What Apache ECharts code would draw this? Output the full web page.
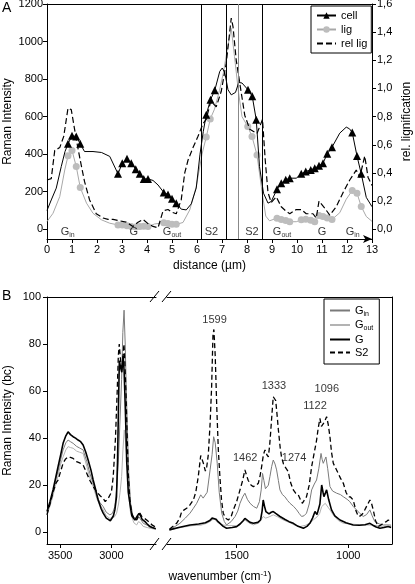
<!DOCTYPE html>
<html><head><meta charset="utf-8">
<script src="https://cdn.jsdelivr.net/npm/echarts@6/dist/echarts.min.js"></script>
<style>html,body{margin:0;padding:0;background:#fff}#c{width:415px;height:584px}</style>
</head><body><div id="c"></div>
<script>
// ---------------- Panel A data (distance in µm) ----------------
const cellCurve = [[0,100],[0.17,156],[0.37,219],[0.57,334],[0.72,414],[1.5,414],[1.84,414],[2.18,409],[2.51,388],
  [4.24,260],[4.44,236],[5.37,107],[5.57,103],[5.77,135],[5.97,220],[6.12,400],[6.25,520],
  [6.91,841],[7.01,859],[7.11,835],[7.24,743],[7.37,716],[7.54,729],[7.67,782],[7.8,779],
  [8.5,334],[8.66,192],[8.84,139],[8.97,148],[9.97,272],[11.71,512],[11.97,544],[12.1,535],[12.77,170],[13,120]];
const cellMarks = [[0.84,455],[1.0,498],[1.17,494],[1.33,455],
  [2.84,295],[3.01,352],[3.2,375],[3.37,352],[3.55,320],[3.71,295],[3.87,268],[4.04,268],
  [4.67,196],[4.84,185],[5.0,162],[5.17,139],[6.37,610],[6.54,690],[6.71,740],
  [8.04,743],[8.21,708],[8.37,583],[9.2,213],[9.37,245],[9.55,263],[9.71,272],
  [10.17,295],[10.35,308],[10.55,316],[10.71,325],[10.88,338],[11.04,352],[11.21,402],[11.4,437],
  [12.21,515],[12.4,390],[12.57,295]];
const ligCurve = [[0,41],[0.24,85],[0.51,174],[0.71,316],[1.58,139],[1.84,85],[2.18,50],[2.51,32],[4.3,28],
  [5.44,36],[5.71,103],[5.97,228],[6.2,400],[6.7,640],[6.9,740],[7.05,830],[7.2,950],[7.37,1070],[7.5,920],[7.65,740],[7.8,600],
  [8.6,200],[8.75,70],[8.9,45],[9.97,40],[11.71,88],[11.97,160],[12.77,68],[13,42]];
const ligMarks = [[0.84,391],[1.0,420],[1.17,334],[1.33,222],
  [2.84,23],[3.01,22],[3.2,18],[3.37,15],[3.55,12],[3.71,14],[3.87,16],[4.04,14],
  [4.67,34],[4.84,30],[5.0,26],[5.17,26],[6.37,491],[6.53,587],[8.03,547],[8.2,494],[8.4,396],
  [9.2,59],[9.37,52],[9.55,46],[9.71,40],[10.17,50],[10.35,53],[10.55,48],[10.71,40],[10.88,73],[11.04,68],[11.21,60],[11.4,52],
  [12.21,206],[12.4,192],[12.57,121]];
const relLig = [[0,0.35],[0.17,0.36],[0.31,0.56],[0.51,0.58],[0.67,0.66],[0.84,0.86],[0.97,0.85],[1.17,0.64],[1.33,0.49],[1.5,0.34],
  [1.7,0.21],[1.97,0.11],[2.24,0.08],[2.44,0.07],[2.64,0.07],[2.91,0.06],[3.17,0.05],[3.44,0.02],[3.64,0.05],[3.84,0.07],[4.04,0.04],
  [4.24,0.02],[4.44,0.01],[4.64,0.13],[4.84,0.14],[5.01,0.12],[5.17,0.11],[5.37,0.21],[5.51,0.40],[5.64,0.49],[5.84,0.58],[6.04,0.66],
  [6.24,0.75],[6.37,0.78],[6.55,0.91],[6.77,0.87],[6.97,0.98],[7.17,1.18],[7.37,1.50],[7.44,1.44],[7.57,1.20],[7.77,0.97],[7.91,0.81],
  [8.11,0.71],[8.4,0.68],[8.62,0.78],[8.73,0.49],[8.84,0.26],[8.97,0.19],[9.17,0.23],[9.37,0.16],[9.55,0.13],[9.71,0.11],[9.97,0.14],
  [10.17,0.14],[10.37,0.11],[10.64,0.11],[10.77,0.08],[10.88,0.20],[11.11,0.15],[11.31,0.10],[11.57,0.16],[11.84,0.26],[12.11,0.35],
  [12.37,0.42],[12.51,0.37],[12.71,0.52],[12.84,0.37],[13,0.31]];
const boundaries = [6.16, 7.15, 7.64, 8.6];
const regions = [['G','in',0.83],['G','',3.47],['G','out',5.0],['S2','',6.58],['S2','',8.2],['G','out',9.4],['G','',11.0],['G','in',12.23]];
const yTicksA = [0,200,400,600,800,1000,1200];
const relTicksA = [0,0.2,0.4,0.6,0.8,1.0,1.2,1.4,1.6];

// ---------------- Panel B data (wavenumber, cm-1) ----------------
const S2high = [[3629,7.4],[3600,12],[3570,17],[3540,21],[3521,22.2],[3495,26],[3472,29.3],[3450,31],[3423,32],[3400,31.8],[3374,31.4],[3340,30],[3310,29.5],[3276,28.6],[3240,25],[3210,22],[3178,19.4],[3140,17],[3110,15.5],[3080,14.4],[3060,13],[3047,12.3],[3030,14.5],[3015,13.7],[3000,17],[2982,23.6],[2960,40],[2943,60],[2932,75],[2923,80],[2912,74],[2900,69],[2888,74],[2877,80],[2868,72],[2858,60],[2845,40],[2835,25],[2820,14],[2802,8.1],[2780,6],[2753,5.2],[2735,7],[2721,8.1],[2700,6.5],[2680,6],[2655,5.2],[2635,4.5],[2622,3.8],[2600,3],[2580,2.5],[2566,2]];
const Ghigh = [[3629,8.8],[3600,13],[3570,18],[3540,24],[3521,27.9],[3495,33],[3472,37.8],[3445,41],[3423,42.7],[3400,41.5],[3374,40.6],[3350,40],[3325,39.2],[3300,38.5],[3276,37.1],[3250,34],[3227,30.7],[3200,26.5],[3178,22.2],[3150,17.5],[3129,13.7],[3100,10],[3080,8.1],[3050,6],[3031,5.2],[3010,4.9],[2998,5.2],[2980,7],[2966,9.5],[2950,15],[2940,30],[2930,55],[2922,73],[2910,70],[2898,68],[2885,75],[2875,68],[2862,50],[2850,30],[2835,17],[2819,12.3],[2800,7],[2770,5.2],[2745,7],[2730,8],[2715,7],[2700,5.5],[2671,4.5],[2650,3.5],[2622,2.4],[2600,2],[2566,1.5]];
const GinHigh = [[3629,8],[3600,12],[3570,17],[3540,23],[3521,26],[3495,31],[3472,35],[3445,38],[3423,39.2],[3400,38.5],[3374,37.8],[3340,36.5],[3310,35.8],[3276,35],[3240,30],[3210,25],[3178,20.8],[3140,15],[3110,12.5],[3080,10.9],[3050,8.5],[3015,7.4],[2990,8],[2966,10.9],[2945,20],[2930,32],[2917,46],[2900,65],[2888,85],[2876,94.4],[2865,80],[2855,62],[2845,46],[2830,25],[2812,12.3],[2790,7],[2753,5.2],[2730,6.5],[2715,6],[2688,3.8],[2650,3],[2622,2.1],[2566,1.5]];
const GoutHigh = [[3629,7.4],[3600,11],[3570,15.5],[3540,21],[3521,24],[3495,29],[3472,32],[3445,35],[3423,36.4],[3400,36],[3374,35.7],[3340,34.5],[3310,34],[3276,33.5],[3240,28],[3210,23],[3178,19.4],[3140,14],[3110,11.5],[3080,9.5],[3050,7],[3015,5.9],[2990,6],[2970,6.5],[2949,8.1],[2930,12],[2915,17],[2900,23.6],[2887,35],[2874,43.5],[2860,38],[2845,29.3],[2830,16],[2815,9],[2802,6.7],[2780,4],[2753,3.1],[2735,4.5],[2715,4],[2690,2.5],[2650,2],[2622,1.7],[2566,1.2]];
const S2low = [[1801,1.3],[1785,2.5],[1769,3.8],[1755,6],[1746,8.8],[1735,9.5],[1724,10.2],[1710,11.5],[1694,13.7],[1683,17],[1672,23.6],[1661,32.6],[1655,31],[1649,29.3],[1640,26],[1635,27],[1627,33],[1619,46],[1612,62],[1606,84],[1602,86.2],[1596,75],[1589,53],[1582,35],[1575,23.6],[1568,14],[1560,8.1],[1550,6],[1537,5.2],[1525,6.5],[1515,9.5],[1500,13],[1485,18],[1473,22],[1463,26.5],[1455,24],[1448,22],[1435,20],[1425,19.4],[1412,20],[1403,20.8],[1395,24],[1388,27.9],[1380,33],[1373,35],[1365,33],[1358,32],[1352,37],[1348,42],[1342,50],[1336,57.6],[1330,57],[1325,56],[1318,49],[1313,43.5],[1305,36],[1299,32],[1290,29],[1284,27.9],[1276,28],[1269,25.8],[1258,21],[1246,18],[1235,16.5],[1224,15.9],[1215,14],[1206,12.3],[1198,13],[1187,15.1],[1175,20],[1164,27.9],[1152,34],[1142,39],[1135,44],[1127,48.4],[1120,45],[1115,44.9],[1106,47],[1097,49.1],[1090,46],[1082,40.6],[1075,34],[1067,29.3],[1055,27],[1045,25],[1035,23],[1022,20.8],[1010,17],[1000,15.1],[990,15],[978,13.7],[965,9],[955,6.7],[945,7],[933,8.1],[918,11],[903,13.7],[895,12],[888,9.5],[878,5],[866,2.4],[855,3],[843,3.8],[830,4.5],[821,5.2],[808,4.5]];
const GinLow = [[1801,1],[1775,2.5],[1754,3.8],[1730,6],[1709,8.1],[1695,10],[1679,12.3],[1668,14.5],[1661,15.9],[1650,14.5],[1642,13.7],[1632,17],[1619,26.5],[1610,33],[1603,40.6],[1596,38],[1587,29.3],[1578,17],[1567,8.1],[1555,4.5],[1545,3.1],[1525,4.5],[1507,6.7],[1495,9],[1485,12.3],[1473,15],[1463,16.6],[1452,14],[1440,12.3],[1425,11],[1410,10.2],[1398,13],[1390,18],[1384,25],[1378,22],[1371,18.5],[1366,18],[1358,20],[1351,23.6],[1343,28],[1336,30.7],[1328,29],[1321,26.5],[1313,22],[1306,18],[1295,16],[1284,15.1],[1272,13.5],[1261,12.3],[1245,11],[1231,9.5],[1220,8],[1209,6.7],[1198,7],[1187,8.1],[1175,12],[1164,18],[1152,20.5],[1142,22.2],[1132,27],[1122,33.5],[1117,31],[1112,29.3],[1106,30],[1100,32],[1092,27],[1082,19.4],[1070,17.5],[1052,16.6],[1035,16],[1022,15.1],[1005,14],[993,13],[978,11],[963,9.5],[948,8],[933,6.7],[918,7.5],[903,9.5],[893,7],[881,4.5],[860,3.5],[843,3.1],[821,3.1],[808,3]];
const Glow = [[1801,1],[1760,2],[1709,3.1],[1670,3.5],[1640,4],[1620,5],[1610,6],[1602,6.7],[1592,5.5],[1583,4.5],[1575,3.8],[1560,2.5],[1545,1.7],[1520,2],[1500,2.4],[1485,3.5],[1470,5],[1463,5.9],[1455,5.5],[1440,4.2],[1425,3.8],[1405,4.2],[1393,5.2],[1386,9],[1381,13.7],[1375,11],[1369,8.8],[1355,7.8],[1345,8.5],[1336,8.8],[1325,8],[1306,6.7],[1285,5.5],[1265,4.5],[1246,3.8],[1225,2.5],[1201,1.7],[1185,2.5],[1172,3.8],[1160,6],[1149,8.8],[1140,7.5],[1134,6.7],[1127,12],[1119,20.1],[1113,17],[1109,15.1],[1103,16.5],[1097,18],[1088,14],[1075,9.5],[1060,7],[1037,5.2],[1010,4],[978,3.1],[950,3],[925,3.2],[903,3.8],[890,3],[875,2.2],[858,1.7],[840,2],[821,2.4],[808,2]];
const GoutLow = [[1801,1],[1750,2],[1700,2.8],[1660,3],[1634,3.8],[1615,4.8],[1601,5.9],[1590,4.5],[1567,3.1],[1530,2.8],[1500,2.8],[1485,3.1],[1463,5.2],[1445,4],[1425,3.1],[1400,4],[1381,6.7],[1370,6],[1355,6.5],[1336,7.4],[1315,6.5],[1291,5.2],[1260,4],[1240,3],[1216,2.4],[1190,3],[1170,4],[1157,5.2],[1140,6.5],[1128,8],[1119,10.9],[1112,11.5],[1103,12.3],[1095,12],[1082,9.5],[1065,7],[1045,5],[1022,3.8],[990,3.5],[950,3.2],[918,3.1],[890,3],[860,2.6],[821,2.4],[808,2.2]];
const peakLabels = [[1599,90.4],[1333,62.3],[1096,60.7],[1122,53.6],[1462,31.7],[1274,31.7]];
const yTicksB = [0,20,40,60,80,100];
const xTicksHigh = [3000,3500];
const xTicksLow = [1000,1500];

// ---------------- chart ----------------
const FONT = '"Liberation Sans", Arial, Helvetica, sans-serif';
const BLK = '#000';
const plain = v => String(v);
function merge(curve, marks){
  const a = curve.map(p=>({value:p, symbol:'none'}));
  const b = marks.map(p=>({value:p}));
  return a.concat(b).sort((u,v)=>u.value[0]-v.value[0]);
}
const subRich = {
  m:{fontSize:11, color:BLK, fontFamily:FONT},
  s:{fontSize:7, color:BLK, fontFamily:FONT, padding:[7,0,0,0]}
};
function subText(main, sub){ return sub ? '{m|'+main+'}{s|'+sub+'}' : '{m|'+main+'}'; }
const lineOnly = {show:true, onZero:false, lineStyle:{color:BLK,width:1}};
function borderAxis(grid, pos){
  return {gridIndex:grid, type:'value', position:pos, axisLine:lineOnly, axisTick:{show:false}, axisLabel:{show:false}, splitLine:{show:false}};
}
const noSym = {color:'rgba(0,0,0,0)', borderColor:'rgba(0,0,0,0)', borderWidth:0};
const chart = echarts.init(document.getElementById('c'), null, {renderer:'canvas'});
const boundaryColors = ['#000','#000','#888','#000'];
const option = {
  animation:false,
  textStyle:{fontFamily:FONT},
  grid:[
    {left:47, top:4, width:325, height:235, outerBoundsMode:'none', containLabel:false},
    {left:47, top:297, width:109, height:247, outerBoundsMode:'none', containLabel:false},
    {left:167, top:297, width:225, height:247, outerBoundsMode:'none', containLabel:false}
  ],
  xAxis:[
    {gridIndex:0, type:'value', min:0, max:13, interval:1, position:'bottom',
     axisLine:{show:true, onZero:false, lineStyle:{color:BLK,width:1}, symbol:['none','arrow'], symbolSize:[6,9]},
     axisTick:{show:true, length:4, lineStyle:{color:BLK}}, splitLine:{show:false},
     axisLabel:{fontSize:11, color:BLK, margin:5, formatter:plain},
     name:'distance (µm)', nameLocation:'middle', nameGap:21, nameMoveOverlap:false, nameTextStyle:{fontSize:12, color:BLK}},
    Object.assign(borderAxis(0,'top'), {min:0, max:13}),
    {gridIndex:1, type:'value', min:2564, max:3629, inverse:true, position:'bottom',
     axisLine:lineOnly, axisTick:{show:true, length:4, lineStyle:{color:BLK}, customValues:xTicksHigh},
     axisLabel:{fontSize:11, color:BLK, margin:6, customValues:xTicksHigh, formatter:plain}, splitLine:{show:false}},
    Object.assign(borderAxis(1,'top'), {min:2564, max:3629, inverse:true}),
    {gridIndex:2, type:'value', min:804, max:1812, inverse:true, position:'bottom',
     axisLine:lineOnly, axisTick:{show:true, length:4, lineStyle:{color:BLK}, customValues:xTicksLow},
     axisLabel:{fontSize:11, color:BLK, margin:6, customValues:xTicksLow, formatter:plain}, splitLine:{show:false}},
    Object.assign(borderAxis(2,'top'), {min:804, max:1812, inverse:true})
  ],
  yAxis:[
    {gridIndex:0, type:'value', min:-52, max:1200, position:'left',
     axisLine:lineOnly, axisTick:{show:true, length:4, lineStyle:{color:BLK}, customValues:yTicksA},
     axisLabel:{fontSize:11, color:BLK, margin:4, customValues:yTicksA, formatter:plain}, splitLine:{show:false},
     name:'Raman Intensity', nameLocation:'middle', nameGap:33, nameMoveOverlap:false, nameTextStyle:{fontSize:12, color:BLK}},
    {gridIndex:0, type:'value', min:-52/750, max:1.6, position:'right',
     axisLine:lineOnly, axisTick:{show:true, length:4, lineStyle:{color:BLK}, customValues:relTicksA},
     axisLabel:{fontSize:11, color:BLK, margin:5, customValues:relTicksA, formatter:v=>v.toFixed(1).replace('.',',')},
     splitLine:{show:false},
     name:'rel. lignification', nameLocation:'middle', nameRotate:90, nameGap:29, nameMoveOverlap:false, nameTextStyle:{fontSize:12, color:BLK}},
    {gridIndex:1, type:'value', min:-5, max:100, position:'left',
     axisLine:lineOnly, axisTick:{show:true, length:4, lineStyle:{color:BLK}, customValues:yTicksB},
     axisLabel:{fontSize:11, color:BLK, margin:6, customValues:yTicksB, formatter:plain}, splitLine:{show:false},
     name:'Raman Intensity (bc)', nameLocation:'middle', nameGap:33, nameMoveOverlap:false, nameTextStyle:{fontSize:12, color:BLK}},
    Object.assign(borderAxis(2,'right'), {min:-5, max:100})
  ],
  legend:[
    {left:311, top:6, orient:'vertical', padding:[4,4,4,5], itemGap:3, itemWidth:19, itemHeight:8,
     borderColor:BLK, borderWidth:1, textStyle:{fontSize:11, color:BLK},
     data:['cell','lig',{name:'rel lig', itemStyle:noSym}], selectedMode:false},
    {left:324, top:299, orient:'vertical', padding:[6,6,6,5], itemGap:2, itemWidth:20, itemHeight:8,
     borderColor:BLK, borderWidth:1, textStyle:{fontSize:11, color:BLK, rich:subRich},
     formatter:n=>({G_in:subText('G','in'), G_out:subText('G','out'), G:subText('G',''), S2:subText('S2','')}[n]),
     data:['G_in','G_out','G','S2'].map(n=>({name:n, itemStyle:noSym})), selectedMode:false}
  ],
  series:[
    {name:'lig', type:'line', xAxisIndex:0, yAxisIndex:0, data:merge(ligCurve, ligMarks), symbol:'circle', symbolSize:7,
     itemStyle:{color:'#bdbdbd'}, lineStyle:{color:'#a8a8a8', width:1}, z:2},
    {name:'cell', type:'line', xAxisIndex:0, yAxisIndex:0, data:merge(cellCurve, cellMarks), symbol:'triangle', symbolSize:8,
     itemStyle:{color:BLK}, lineStyle:{color:BLK, width:1}, z:3,
     markLine:{silent:true, symbol:'none', label:{show:false},
       data:boundaries.map((b,i)=>({xAxis:b, lineStyle:{color:boundaryColors[i], type:'solid', width:1}}))}},
    {name:'rel lig', type:'line', xAxisIndex:0, yAxisIndex:1, data:relLig, showSymbol:false, symbol:'none',
     lineStyle:{color:BLK, width:1.2, type:[6,3]}, itemStyle:{color:BLK}, z:4},
    {type:'scatter', xAxisIndex:0, yAxisIndex:0, symbolSize:0, silent:true,
     data:regions.map(r=>({value:[r[2], -15], name:r[0]+r[1]})),
     label:{show:true, position:'inside', color:BLK,
       formatter:p=>{const r=regions[p.dataIndex]; return subText(r[0], r[1]);}, rich:subRich}},
    // Panel B
    {name:'G_out', type:'line', xAxisIndex:2, yAxisIndex:2, data:GoutHigh, showSymbol:false, symbol:'none', lineStyle:{color:'#b3b3b3', width:1}, itemStyle:{color:'#b3b3b3'}, z:2},
    {name:'G_in', type:'line', xAxisIndex:2, yAxisIndex:2, data:GinHigh, showSymbol:false, symbol:'none', lineStyle:{color:'#7a7a7a', width:1}, itemStyle:{color:'#7a7a7a'}, z:3},
    {name:'G', type:'line', xAxisIndex:2, yAxisIndex:2, data:Ghigh, showSymbol:false, symbol:'none', lineStyle:{color:BLK, width:1.6}, itemStyle:{color:BLK}, z:4},
    {name:'S2', type:'line', xAxisIndex:2, yAxisIndex:2, data:S2high, showSymbol:false, symbol:'none', lineStyle:{color:BLK, width:1.3, type:[5,3]}, itemStyle:{color:BLK}, z:5},
    {name:'G_out', type:'line', xAxisIndex:4, yAxisIndex:3, data:GoutLow, showSymbol:false, symbol:'none', lineStyle:{color:'#b3b3b3', width:1}, itemStyle:{color:'#b3b3b3'}, z:2},
    {name:'G_in', type:'line', xAxisIndex:4, yAxisIndex:3, data:GinLow, showSymbol:false, symbol:'none', lineStyle:{color:'#7a7a7a', width:1}, itemStyle:{color:'#7a7a7a'}, z:3},
    {name:'G', type:'line', xAxisIndex:4, yAxisIndex:3, data:Glow, showSymbol:false, symbol:'none', lineStyle:{color:BLK, width:1.6}, itemStyle:{color:BLK}, z:4},
    {name:'S2', type:'line', xAxisIndex:4, yAxisIndex:3, data:S2low, showSymbol:false, symbol:'none', lineStyle:{color:BLK, width:1.3, type:[5,3]}, itemStyle:{color:BLK}, z:5},
    {type:'scatter', xAxisIndex:4, yAxisIndex:3, symbolSize:0, silent:true,
     data:peakLabels.map(p=>{
       const o = {value:p};
       if (p[0]===1122) o.label = {offset:[-6,0]};
       if (p[0]===1274) o.label = {offset:[7,0]};
       return o;
     }),
     label:{show:true, position:'inside', color:BLK, fontSize:11, formatter:p=>String(p.value[0])}}
  ],
  graphic:[
    {type:'text', left:2, top:1, style:{text:'A', fontSize:14, fill:BLK, fontFamily:FONT}},
    {type:'text', left:2, top:289, style:{text:'B', fontSize:14, fill:BLK, fontFamily:FONT}},
    {type:'text', x:220, y:577, style:{text:'{n|wavenumber (cm}{p|-1}{n|)}', align:'center', verticalAlign:'middle',
      rich:{n:{fontSize:12, fill:BLK, fontFamily:FONT}, p:{fontSize:8, fill:BLK, fontFamily:FONT, padding:[0,0,7,0]}}}},
    {type:'line', shape:{x1:150,y1:302,x2:159,y2:291}, style:{stroke:BLK, lineWidth:1}},
    {type:'line', shape:{x1:162,y1:302,x2:171,y2:291}, style:{stroke:BLK, lineWidth:1}},
    {type:'line', shape:{x1:150,y1:550,x2:159,y2:538}, style:{stroke:BLK, lineWidth:1}},
    {type:'line', shape:{x1:162,y1:550,x2:171,y2:538}, style:{stroke:BLK, lineWidth:1}}
  ]
};
chart.setOption(option);
</script>
</body></html>
